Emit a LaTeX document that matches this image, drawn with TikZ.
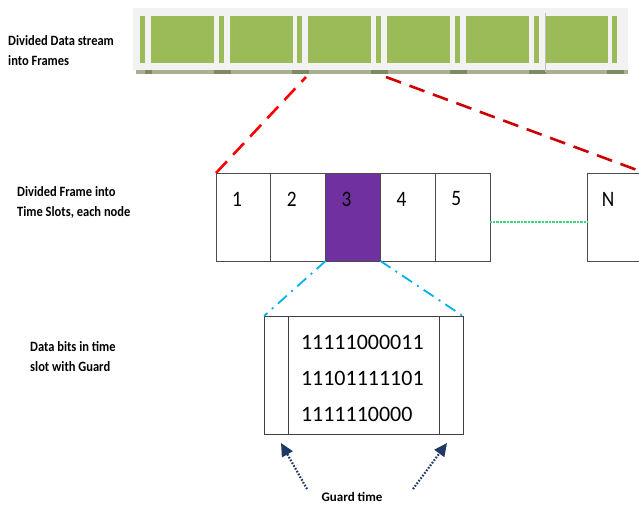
\documentclass[tikz,border=0pt]{standalone}
\usepackage{fontspec}
\setmainfont{Carlito}
\newfontfamily\condfont[FakeStretch=0.88]{Carlito}
\usetikzlibrary{arrows.meta,positioning}

\definecolor{framegreen}{HTML}{9BBB59}
\definecolor{stripgrey}{HTML}{F2F2F2}
\definecolor{shadegreen}{HTML}{A8B091}
\definecolor{shadedark}{HTML}{7D8A63}
\definecolor{slotpurple}{HTML}{7030A0}
\definecolor{linkblue}{HTML}{00B0F0}
\definecolor{guardnavy}{HTML}{1F3864}
\definecolor{dotgreen}{HTML}{3DD67F}

\begin{document}
\begin{tikzpicture}[x=1pt,y=-1pt,
    lbl/.style={anchor=west,align=left,inner sep=0pt,
        font=\condfont\bfseries\fontsize{14.2}{20}\selectfont},
    slot/.style={draw=black!70,line width=0.8pt,minimum width=54.8pt,
        minimum height=88pt,inner sep=0pt,outer sep=0pt},
    slotnum/.style={anchor=center,inner sep=0pt,xshift=21pt,yshift=-26pt,
        font=\condfont\fontsize{22}{22}\selectfont},
    guard/.style={draw=black!75,line width=0.8pt,minimum width=24pt,
        minimum height=118pt,inner sep=0pt,outer sep=0pt},
    bitlines/.style={anchor=center,yshift=-3.5pt,inner sep=0pt,text width=125pt,
        align=left,font=\fontsize{22}{36}\selectfont},
    zoomred/.style={line width=2.6pt,dash pattern=on 16pt off 9pt},
    zoomblue/.style={linkblue,line width=1.8pt,dash pattern=on 12pt off 6pt on 2pt off 6pt},
    guardarrow/.style={guardnavy,line width=2.2pt,dash pattern=on 1.6pt off 1.6pt,
        -{Triangle[length=13pt,width=12pt]}}]
\useasboundingbox (0,0) rectangle (639,504);
\clip (0,0) rectangle (639,504);

% data stream cut into frames
\fill[stripgrey] (133,8) rectangle (628,70);
\fill[shadegreen] (136,70) rectangle (628,74);
\fill[shadedark] (145,70) rectangle (152,74);
\foreach \k in {1,...,6}
    \fill[shadedark] ({140+78.7*\k-5},70) rectangle ({140+78.7*\k+12},74);
\foreach \k in {0,...,6}
    \fill[framegreen] ({140+78.7*\k},16) rectangle ({145+78.7*\k},63);
\foreach \k in {0,...,5}
    \fill[framegreen] ({151+78.7*\k},16) rectangle ({214+78.7*\k},63);
\draw[black!25,line width=0.8pt] (545,13) -- (545,72);

\node[lbl] (txtstream) at (8,51) {Divided Data stream\\into Frames};
\node[lbl] (txtframe) at (17,202) {Divided Frame into\\Time Slots, each node};
\node[lbl] (txtbits) at (30,357) {Data bits in time\\slot with Guard};

% one frame split into time slots
\node[slot,anchor=north west,label={[slotnum]north west:1}] (s1) at (216,173) {};
\node[slot,right=0pt of s1,label={[slotnum]north west:2}] (s2) {};
\node[slot,right=0pt of s2,fill=slotpurple,label={[slotnum]north west:3}] (s3) {};
\node[slot,right=0pt of s3,label={[slotnum]north west:4}] (s4) {};
\node[slot,right=0pt of s4,label={[slotnum]north west:5}] (s5) {};
\node[slot,anchor=north west,minimum width=58pt,label={[slotnum]north west:N}] (sN) at (587,173) {};

\draw[dotgreen,line width=1.1pt,dash pattern=on 0.8pt off 0.6pt] ([yshift=-5pt]s5.east) -- ([yshift=-5pt]sN.west);

\coordinate (cutL) at (306,77);
\coordinate (cutR) at (386,77);
\draw[zoomred,red] (s1.north west) -- (cutL);
\draw[zoomred,red!80!black] (cutR) -- (sN.north east);

% the slot with guard times on both sides
\node[guard,anchor=north west] (gL) at (264,316) {};
\node[draw=black!75,line width=0.8pt,right=0pt of gL,minimum width=151pt,
    minimum height=118pt,inner sep=0pt,outer sep=0pt,
    label={[bitlines]center:11111000011\\11101111101\\1111110000}] (bits) {};
\node[guard,right=0pt of bits] (gR) {};

\draw[zoomblue] (s3.south west) -- (gL.north west);
\draw[zoomblue] (s3.south east) -- (gR.north east);

\node[font=\bfseries\fontsize{13}{13}\selectfont,inner sep=0pt] (gt) at (352,497) {Guard time};
\coordinate (gtL) at (307,489);
\coordinate (gtR) at (413,489);
\coordinate (tipL) at (281,443);
\coordinate (tipR) at (447,443);
\draw[guardarrow] (gtL) -- (tipL);
\draw[guardarrow] (gtR) -- (tipR);
\end{tikzpicture}
\end{document}
